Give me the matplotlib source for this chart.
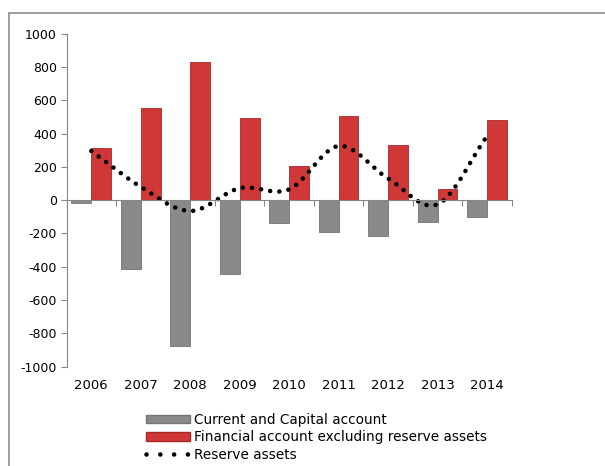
import matplotlib.pyplot as plt
import numpy as np
from matplotlib.patches import Rectangle, Patch
from matplotlib.lines import Line2D

years = ['2006', '2007', '2008', '2009', '2010', '2011', '2012', '2013', '2014']
current_capital = [-20, -414, -876, -445, -137, -190, -214, -130, -104]
financial = [316, 555, 828, 495, 202, 507, 334, 69, 480]
reserve = [295, 80, -65, 72, 65, 325, 130, -25, 385]

plt.rcParams['font.family'] = 'DejaVu Sans'
plt.rcParams['font.size'] = 9
plt.rcParams['axes.unicode_minus'] = False

fig = plt.figure(figsize=(6.05, 4.66), dpi=100)
ax = fig.add_axes([0.110, 0.213, 0.736, 0.715])

# frame around the chart
fig.patches.append(Rectangle((9 / 605, -0.05), 1.0, 1 - 13 / 466 + 0.05,
                             transform=fig.transFigure, fill=False,
                             edgecolor='#8c8c8c', linewidth=1.2))

x = np.arange(len(years))
w = 0.4
ax.bar(x - w / 2, current_capital, w, color='#8a8a8a', edgecolor='#737373', linewidth=0.6)
ax.bar(x + w / 2, financial, w, color='#d03838', edgecolor='#a82828', linewidth=0.6)

# smoothed line (Catmull-Rom through the yearly points)
def smooth(xs, ys, n=30):
    xs = np.asarray(xs, float)
    ys = np.asarray(ys, float)
    px = np.concatenate([[2 * xs[0] - xs[1]], xs, [2 * xs[-1] - xs[-2]]])
    py = np.concatenate([[2 * ys[0] - ys[1]], ys, [2 * ys[-1] - ys[-2]]])
    ox, oy = [], []
    for i in range(1, len(px) - 2):
        t = np.linspace(0, 1, n, endpoint=False)
        for p, o in ((px, ox), (py, oy)):
            p0, p1, p2, p3 = p[i - 1], p[i], p[i + 1], p[i + 2]
            o.extend(0.5 * (2 * p1 + (-p0 + p2) * t + (2 * p0 - 5 * p1 + 4 * p2 - p3) * t ** 2
                            + (-p0 + 3 * p1 - 3 * p2 + p3) * t ** 3))
    ox.append(xs[-1])
    oy.append(ys[-1])
    return np.array(ox), np.array(oy)

sx, sy = smooth(x, reserve)
ax.plot(sx, sy, color='black', linewidth=3.3, linestyle=(0, (0.01, 2.0)),
        dash_capstyle='round')

ax.set_xlim(-0.5, len(years) - 0.5)
ax.set_ylim(-1000, 1000)
ax.set_yticks(np.arange(-1000, 1001, 200))

for s in ['top', 'right']:
    ax.spines[s].set_visible(False)
ax.spines['bottom'].set_position(('data', 0))
ax.spines['left'].set_color('#868686')
ax.spines['bottom'].set_color('#868686')
ax.tick_params(axis='y', length=4, color='#868686', pad=3, labelsize=9)
ax.set_xticks(np.arange(-0.5, len(years), 1))
ax.tick_params(axis='x', length=4, color='#868686', labelbottom=False)

for i, yr in enumerate(years):
    ax.text(i, -1075, yr, ha='center', va='top', fontsize=9.5, clip_on=False)

handles = [Patch(facecolor='#8a8a8a', edgecolor='#737373'),
           Patch(facecolor='#d03838', edgecolor='#a82828'),
           Line2D([], [], color='black', linewidth=3.3, linestyle=(0, (0.01, 3.0)),
                  dash_capstyle='round')]
labels = ['Current and Capital account',
          'Financial account excluding reserve assets',
          'Reserve assets']
fig.legend(handles, labels, loc='upper left', bbox_to_anchor=(146 / 605, 1 - 413 / 466),
           frameon=False, fontsize=9.8, handlelength=3.2, handleheight=0.55,
           handletextpad=0.35, labelspacing=0.25, borderpad=0, borderaxespad=0)

fig.savefig('out.png', dpi=100)
